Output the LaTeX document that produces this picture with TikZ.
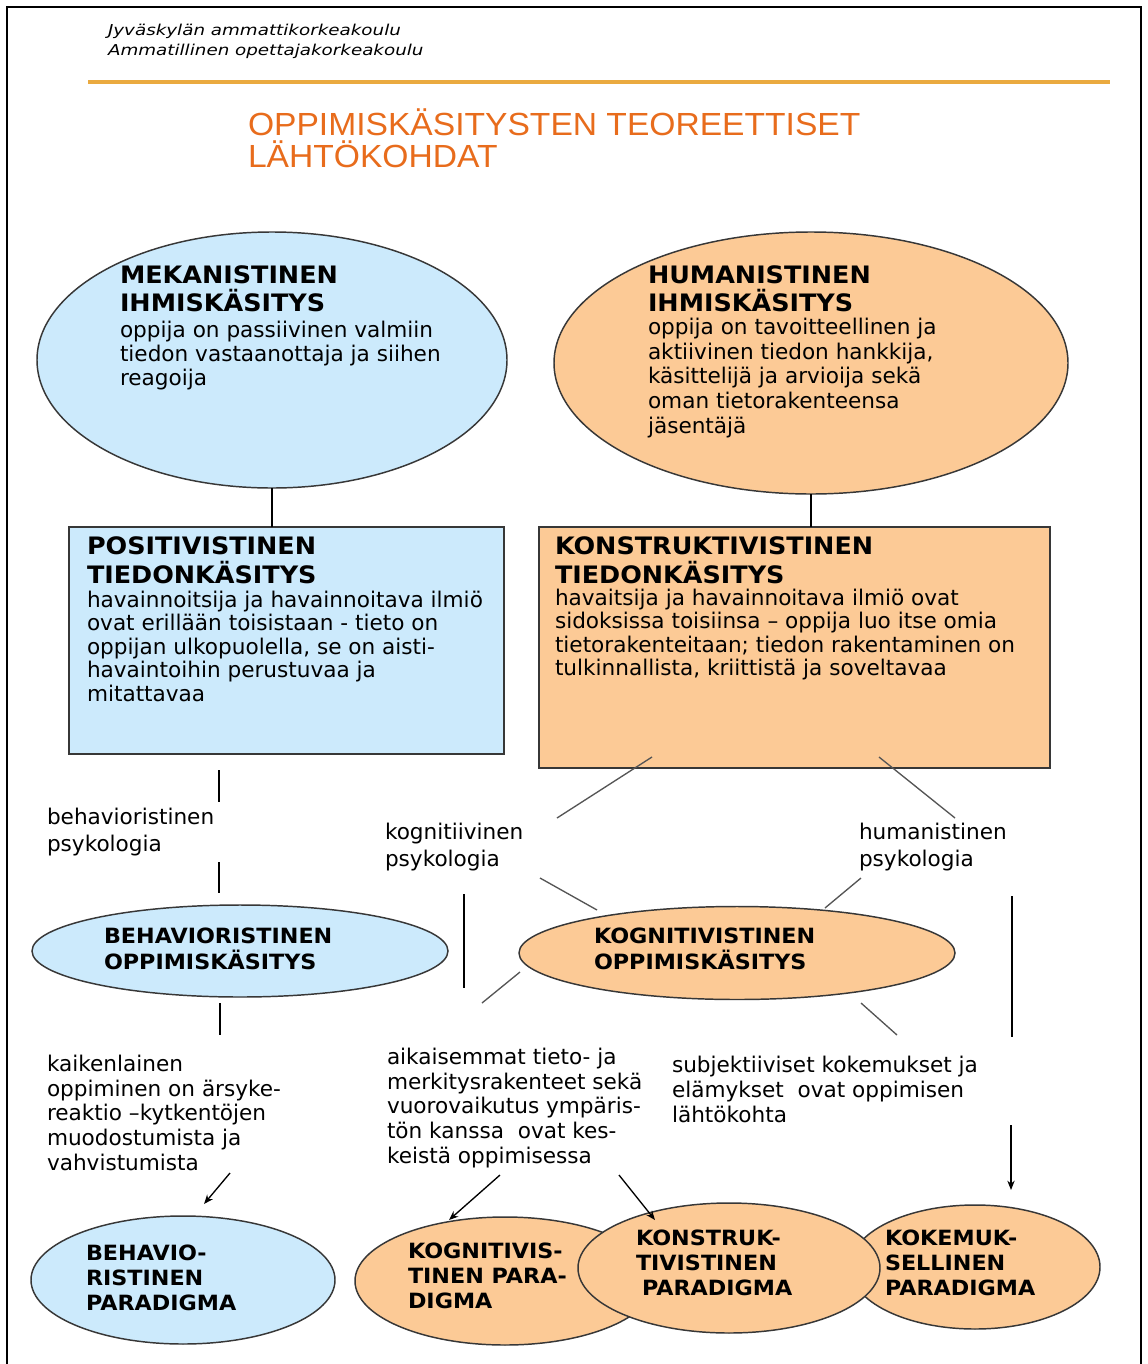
\documentclass[tikz,border=0pt]{standalone}
\usepackage{fontspec}
\usetikzlibrary{shapes.geometric,arrows.meta}
\setmainfont{DejaVu Sans}
\newfontfamily\bodyfont{DejaVu Sans}
\newfontfamily\headfont{DejaVu Sans}[FakeStretch=1.06]
\newfontfamily\hdrfont{DejaVu Sans}[FakeStretch=1.22]
\newfontfamily\titlefont{Liberation Sans}[FakeStretch=1.05]
\definecolor{paleblue}{RGB}{204,234,252}
\definecolor{paleorange}{RGB}{252,202,150}
\definecolor{titleorange}{RGB}{232,108,28}
\definecolor{rulegold}{RGB}{234,170,64}
\definecolor{outline}{RGB}{55,55,55}
\definecolor{linkgray}{RGB}{85,85,85}
\begin{document}
% multi-line text nodes are anchored at the baseline of their last line
\begin{tikzpicture}[x=0.75pt,y=-0.75pt,
  every node/.style={inner sep=0pt,outer sep=0pt},
  oval/.style={ellipse,draw=outline,line width=1.1pt},
  panel/.style={rectangle,draw=outline,line width=1.3pt},
  txt/.style={anchor=base west,align=left,text=black},
  body/.style={txt,font=\bodyfont\fontsize{16.2}{17.6}\selectfont},
  note/.style={txt,font=\bodyfont\fontsize{16.2}{18.4}\selectfont},
  label/.style={txt,font=\bodyfont\fontsize{16.2}{20.25}\selectfont},
  bighead/.style={txt,font=\headfont\bfseries\fontsize{18}{21}\selectfont},
  boxhead/.style={txt,font=\headfont\bfseries\fontsize{18}{21.75}\selectfont},
  smallhead/.style={txt,font=\headfont\bfseries\fontsize{15.75}{19.5}\selectfont},
  parhead/.style={txt,font=\headfont\bfseries\fontsize{15.75}{18.75}\selectfont},
  link/.style={draw=black,line width=1.1pt},
  slant/.style={draw=linkgray,line width=1pt},
  arrow/.style={draw=black,line width=1pt,-{Stealth[length=7pt,width=5.5pt]}}
]
% page frame
\useasboundingbox (0,0) rectangle (1148,1364);
\fill[white] (0,0) rectangle (1148,1364);
\draw[line width=2.2pt] (7,1364) -- (7,7) -- (1141,7) -- (1141,1364);

% header
\node[txt,font=\hdrfont\itshape\fontsize{11.25}{15}\selectfont] (org) at (108,55)
  {Jyväskylän ammattikorkeakoulu\\Ammatillinen opettajakorkeakoulu};
\draw[rulegold,line width=3pt] (88,82) -- (1110,82);
\node[txt,text=titleorange,font=\titlefont\fontsize{24}{24}\selectfont] (title) at (248,167)
  {OPPIMISKÄSITYSTEN TEOREETTISET\\LÄHTÖKOHDAT};

% views of the human being
\node[oval,fill=paleblue,minimum width=352.5pt,minimum height=192pt] (mek) at (272,360) {};
\node[oval,fill=paleorange,minimum width=385.5pt,minimum height=196.5pt] (hum) at (811,363) {};
\node[bighead] (mekH) at (120,311) {MEKANISTINEN\\IHMISKÄSITYS};
\node[body,font=\bodyfont\fontsize{16.2}{18}\selectfont] (mekT) at (120,385)
  {oppija on passiivinen valmiin\\tiedon vastaanottaja ja siihen\\reagoija};
\node[bighead] (humH) at (648,311) {HUMANISTINEN\\IHMISKÄSITYS};
\node[body,font=\bodyfont\fontsize{16.2}{18.4}\selectfont] (humT) at (648,433)
  {oppija on tavoitteellinen ja\\aktiivinen tiedon hankkija,\\käsittelijä ja arvioija sekä\\oman tietorakenteensa\\jäsentäjä};

% views of knowledge
\node[panel,fill=paleblue,minimum width=326.25pt,minimum height=170.25pt] (pos) at (286.5,640.5) {};
\node[panel,fill=paleorange,minimum width=383.25pt,minimum height=180.75pt] (kon) at (794.5,647.5) {};
\draw[link] (mek.south) -- (mek.south |- pos.north);
\draw[link] (hum.south) -- (hum.south |- kon.north);
\node[boxhead] (posH) at (87,583) {POSITIVISTINEN\\TIEDONKÄSITYS};
\node[body] (posT) at (87,701)
  {havainnoitsija ja havainnoitava ilmiö\\ovat erillään toisistaan - tieto on\\oppijan ulkopuolella, se on aisti-\\havaintoihin perustuvaa ja\\mitattavaa};
\node[boxhead] (konH) at (555,583) {KONSTRUKTIVISTINEN\\TIEDONKÄSITYS};
\node[body] (konT) at (555,675.5)
  {havaitsija ja havainnoitava ilmiö ovat\\sidoksissa toisiinsa – oppija luo itse omia\\tietorakenteitaan; tiedon rakentaminen on\\tulkinnallista, kriittistä ja soveltavaa};

% psychologies
\node[label] (behPs) at (47,851) {behavioristinen\\psykologia};
\node[label] (kogPs) at (385,866) {kognitiivinen\\psykologia};
\node[label] (humPs) at (859,866) {humanistinen\\psykologia};

% conceptions of learning
\node[oval,fill=paleblue,minimum width=312pt,minimum height=69pt] (beh) at (240,951) {};
\node[oval,fill=paleorange,minimum width=327pt,minimum height=69.75pt] (kog) at (737,953) {};
\node[smallhead] (behH) at (104,969) {BEHAVIORISTINEN\\OPPIMISKÄSITYS};
\node[smallhead] (kogH) at (594,969) {KOGNITIVISTINEN\\OPPIMISKÄSITYS};

% connector segments
\coordinate (b1) at (219,770); \coordinate (b2) at (219,802);
\coordinate (b3) at (219,862); \coordinate (b4) at (219,893);
\coordinate (b5) at (220,1003); \coordinate (b6) at (220,1035);
\draw[link] (b1) -- (b2);
\draw[link] (b3) -- (b4);
\draw[link] (b5) -- (b6);
\coordinate (k1) at (652,757); \coordinate (k2) at (557,818);
\coordinate (h1) at (879,757); \coordinate (h2) at (955,818);
\coordinate (k3) at (540,878); \coordinate (k4) at (597,910);
\coordinate (h3) at (861,878); \coordinate (h4) at (825,908);
\draw[slant] (k1) -- (k2);
\draw[slant] (h1) -- (h2);
\draw[slant] (k3) -- (k4);
\draw[slant] (h3) -- (h4);
\coordinate (v1) at (464,894); \coordinate (v2) at (464,988);
\draw[link] (v1) -- (v2);
\coordinate (r1) at (1012,896); \coordinate (r2) at (1012,1037);
\draw[link] (r1) -- (r2);
\coordinate (k5) at (520,972); \coordinate (k6) at (482,1003);
\coordinate (k7) at (861,1003); \coordinate (k8) at (897,1035);
\draw[slant] (k5) -- (k6);
\draw[slant] (k7) -- (k8);

% descriptions of learning
\node[note] (behD) at (47,1170)
  {kaikenlainen\\oppiminen on ärsyke-\\reaktio –kytkentöjen\\muodostumista ja\\vahvistumista};
\node[note] (kogD) at (387,1163)
  {aikaisemmat tieto- ja\\merkitysrakenteet sekä\\vuorovaikutus ympäris-\\tön kanssa\ \ ovat kes-\\keistä oppimisessa};
\node[note] (humD) at (672,1122)
  {subjektiiviset kokemukset ja\\elämykset\ \ ovat oppimisen\\lähtökohta};

% paradigms
\node[oval,fill=paleblue,minimum width=228pt,minimum height=96pt] (bpar) at (183,1280) {};
\node[oval,fill=paleorange,minimum width=225pt,minimum height=96pt] (kpar) at (505,1281) {};
\node[oval,fill=paleorange,minimum width=187.5pt,minimum height=93pt] (xpar) at (975,1267) {};
\node[oval,fill=paleorange,minimum width=226.5pt,minimum height=97.5pt] (cpar) at (729,1268) {};
\node[parhead] (bparT) at (86,1310) {BEHAVIO-\\RISTINEN\\PARADIGMA};
\node[parhead] (kparT) at (408,1308) {KOGNITIVIS-\\TINEN PARA-\\DIGMA};
\node[parhead] (cparT) at (636,1295) {KONSTRUK-\\TIVISTINEN\\\hspace*{4.5pt}PARADIGMA};
\node[parhead] (xparT) at (885,1295) {KOKEMUK-\\SELLINEN\\PARADIGMA};

% arrows
\coordinate (a1) at (230,1173); \coordinate (a2) at (204,1204);
\coordinate (a3) at (500,1175); \coordinate (a4) at (449,1220);
\coordinate (a5) at (619,1175); \coordinate (a6) at (655,1220);
\coordinate (a7) at (1011,1125); \coordinate (a8) at (1011,1190);
\draw[arrow] (a1) -- (a2);
\draw[arrow] (a3) -- (a4);
\draw[arrow] (a5) -- (a6);
\draw[arrow] (a7) -- (a8);
\end{tikzpicture}
\end{document}
